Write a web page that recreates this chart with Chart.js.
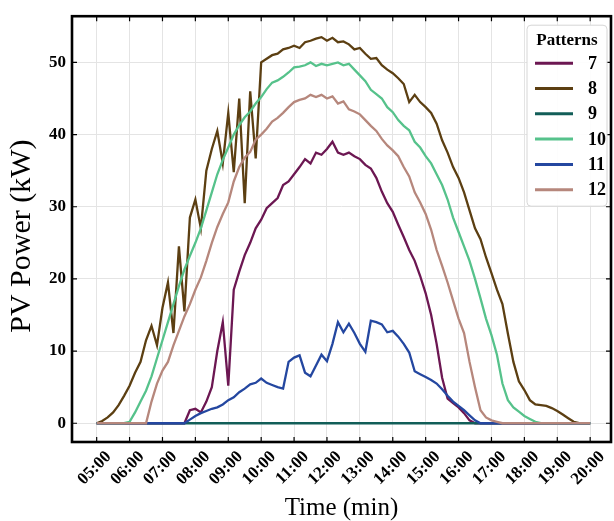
<!DOCTYPE html>
<html lang="en">
<head>
  <meta charset="UTF-8" />
  <title>PV Power Patterns</title>
  <script src="https://cdn.jsdelivr.net/npm/chart.js"></script>
  <style>
    html, body { margin: 0; padding: 0; background: #fff; }
    #wrap { width: 614px; height: 521px; }
  </style>
</head>
<body>
  <div id="wrap"><canvas id="pvChart" width="614" height="521"></canvas></div>

  <script>
    // time of day in minutes, one sample every 10 min from 05:00 to 20:00
    const times = [
      300, 310, 320, 330, 340, 350,
      360, 370, 380, 390, 400, 410,
      420, 430, 440, 450, 460, 470,
      480, 490, 500, 510, 520, 530,
      540, 550, 560, 570, 580, 590,
      600, 610, 620, 630, 640, 650,
      660, 670, 680, 690, 700, 710,
      720, 730, 740, 750, 760, 770,
      780, 790, 800, 810, 820, 830,
      840, 850, 860, 870, 880, 890,
      900, 910, 920, 930, 940, 950,
      960, 970, 980, 990, 1000, 1010,
      1020, 1030, 1040, 1050, 1060, 1070,
      1080, 1090, 1100, 1110, 1120, 1130,
      1140, 1150, 1160, 1170, 1180, 1190,
      1200
    ];

    const patternNames = ['7', '8', '9', '10', '11', '12'];
    const patternColors = ['#6c1752', '#5c3f12', '#125e58', '#56c28b', '#2447a0', '#b6877c'];

    // PV power (kW) per pattern
    const pattern7 = [
      0, 0, 0, 0, 0, 0,
      0, 0, 0, 0, 0, 0,
      0, 0, 0, 0, 0, 1.8,
      2.0, 1.5, 3.0, 5.0, 10.0, 14.0,
      5.2, 18.5, 21.0, 23.3, 25.0, 27.0,
      28.2, 29.8, 30.5, 31.2, 33.0, 33.5,
      34.5, 35.5, 36.6, 36.0, 37.5, 37.2,
      38.0, 39.0, 37.5, 37.2, 37.5, 37.0,
      36.6, 35.8, 35.3, 34.0, 32.1, 30.5,
      29.3, 27.5, 25.8, 24.0, 22.5, 20.4,
      18.0, 15.0, 11.0, 6.3, 3.4, 2.8,
      2.2, 1.4, 0.4, 0, 0, 0,
      0, 0, 0, 0, 0, 0,
      0, 0, 0, 0, 0, 0,
      0, 0, 0, 0, 0, 0,
      0
    ];
    const pattern8 = [
      0, 0.3, 0.8, 1.5, 2.5, 3.8,
      5.2, 7.0, 8.5, 11.5, 13.5, 10.8,
      16.0, 19.5, 12.5, 24.5, 15.5, 28.5,
      31.0, 27.0, 35.0, 38.0, 40.5, 36.0,
      43.0, 34.8, 45.0, 30.5, 46.0, 36.7,
      50.0, 50.5, 51.0, 51.2, 51.8, 52.0,
      52.3, 52.0, 52.8, 53.0, 53.3, 53.5,
      53.0, 53.4, 52.8, 52.9, 52.5, 51.8,
      52.0, 51.2, 50.5, 50.6, 49.6, 49.0,
      48.5, 47.8, 47.0, 44.5, 45.5, 44.5,
      43.8, 43.0, 41.5, 39.2, 37.5, 35.5,
      34.0, 32.0, 29.5, 27.0, 25.5, 23.0,
      20.8, 18.5, 16.5, 12.4, 8.5, 5.8,
      4.6, 3.2, 2.6, 2.5, 2.4, 2.1,
      1.7, 1.2, 0.7, 0.2, 0, 0,
      0
    ];
    const pattern9 = [
      0, 0, 0, 0, 0, 0,
      0, 0, 0, 0, 0, 0,
      0, 0, 0, 0, 0, 0,
      0, 0, 0, 0, 0, 0,
      0, 0, 0, 0, 0, 0,
      0, 0, 0, 0, 0, 0,
      0, 0, 0, 0, 0, 0,
      0, 0, 0, 0, 0, 0,
      0, 0, 0, 0, 0, 0,
      0, 0, 0, 0, 0, 0,
      0, 0, 0, 0, 0, 0,
      0, 0, 0, 0, 0, 0,
      0, 0, 0, 0, 0, 0,
      0, 0, 0, 0, 0, 0,
      0, 0, 0, 0, 0, 0,
      0
    ];
    const pattern10 = [
      0, 0, 0, 0, 0, 0,
      0.2, 1.5, 3.0, 4.5, 6.5, 9.0,
      11.5, 14.0, 16.5, 19.0, 21.3, 23.2,
      25.0, 27.0, 29.5, 32.0, 34.5, 36.5,
      38.2, 40.0, 41.3, 42.4, 43.2, 44.3,
      45.2, 46.3, 47.2, 47.5, 48.0, 48.6,
      49.3, 49.4, 49.6, 50.0, 49.5, 49.8,
      49.6, 49.8, 50.0, 49.6, 49.8, 49.0,
      48.2, 47.4, 46.2, 45.6, 45.0, 43.8,
      43.1, 42.0, 41.2, 40.6, 39.0, 38.2,
      37.0, 36.0, 34.5, 33.0, 31.0, 28.5,
      26.5, 24.5, 22.5, 20.0, 17.3, 14.5,
      12.2, 9.5, 5.5, 3.2, 2.2, 1.6,
      1.0, 0.6, 0.2, 0, 0, 0,
      0, 0, 0, 0, 0, 0,
      0
    ];
    const pattern11 = [
      0, 0, 0, 0, 0, 0,
      0, 0, 0, 0, 0, 0,
      0, 0, 0, 0, 0, 0.5,
      1.0, 1.4, 1.7, 2.0, 2.2, 2.6,
      3.2, 3.6, 4.3, 4.8, 5.4, 5.6,
      6.2, 5.6, 5.3, 5.0, 4.8, 8.5,
      9.1, 9.4, 7.0, 6.5, 8.0, 9.5,
      8.6, 11.0, 14.0, 12.6, 13.8, 12.5,
      11.0, 9.9, 14.2, 14.0, 13.7, 12.6,
      12.8, 12.0, 11.0, 9.8, 7.2, 6.8,
      6.4, 6.0, 5.5, 4.7, 3.8, 3.0,
      2.4, 1.8, 1.1, 0.4, 0, 0,
      0, 0, 0, 0, 0, 0,
      0, 0, 0, 0, 0, 0,
      0, 0, 0, 0, 0, 0,
      0
    ];
    const pattern12 = [
      0, 0, 0, 0, 0, 0,
      0, 0, 0, 0, 3.0, 5.5,
      7.3, 8.5, 10.8, 12.8, 14.8, 16.5,
      18.5, 20.2, 22.5, 25.0, 27.2, 29.0,
      30.6, 33.5, 35.5, 36.8, 37.6, 39.3,
      40.0, 40.8, 41.8, 42.3, 43.0, 43.8,
      44.5, 44.8, 45.0, 45.5, 45.2, 45.5,
      45.0, 45.3, 44.3, 44.6, 43.5, 43.2,
      42.8, 42.0, 41.2, 40.5, 39.4, 38.5,
      37.8, 37.0, 35.5, 34.2, 32.0, 30.6,
      29.0, 26.8, 24.0, 21.8, 19.5, 17.0,
      14.5, 12.5, 8.5, 5.0, 1.8, 0.8,
      0.4, 0.2, 0, 0, 0, 0,
      0, 0, 0, 0, 0, 0,
      0, 0, 0, 0, 0, 0,
      0
    ];

    const xTicks = [300, 360, 420, 480, 540, 600, 660, 720, 780, 840, 900, 960, 1020, 1080, 1140, 1200];
    const xTickLabels = ['05:00', '06:00', '07:00', '08:00', '09:00', '10:00', '11:00', '12:00',
                         '13:00', '14:00', '15:00', '16:00', '17:00', '18:00', '19:00', '20:00'];
    const yTicks = [0, 10, 20, 30, 40, 50];
    const yTitle = 'PV Power (kW)';

    const seriesValues = [pattern7, pattern8, pattern9, pattern10, pattern11, pattern12];
    const serif = "'Liberation Serif', 'Times New Roman', serif";

    // frame with inward tick marks, drawn over the lines
    const framePlugin = {
      id: 'frame',
      afterDatasetsDraw(chart) {
        const { ctx, chartArea: a, scales } = chart;
        ctx.save();
        ctx.strokeStyle = '#000';
        ctx.lineWidth = 1.2;
        ctx.beginPath();
        xTicks.forEach(t => {
          const px = scales.x.getPixelForValue(t);
          ctx.moveTo(px, a.bottom); ctx.lineTo(px, a.bottom - 5);
          ctx.moveTo(px, a.top); ctx.lineTo(px, a.top + 5);
        });
        yTicks.forEach(t => {
          const py = scales.y.getPixelForValue(t);
          ctx.moveTo(a.left, py); ctx.lineTo(a.left + 5, py);
          ctx.moveTo(a.right, py); ctx.lineTo(a.right - 5, py);
        });
        ctx.stroke();
        ctx.lineWidth = 2.6;
        ctx.strokeRect(a.left, a.top, a.right - a.left, a.bottom - a.top);

        // y axis title, sits a little below the axis centre as in the original
        ctx.translate(22, (a.top + a.bottom) / 2 + 7);
        ctx.rotate(-Math.PI / 2);
        ctx.fillStyle = '#000';
        ctx.font = `30px ${serif}`;
        ctx.textAlign = 'center';
        ctx.textBaseline = 'middle';
        ctx.fillText(yTitle, 0, 0);
        ctx.restore();
      }
    };

    // boxed legend in the upper right corner
    const legendPlugin = {
      id: 'patternLegend',
      afterDraw(chart) {
        const { ctx, chartArea: a } = chart;
        const bx = a.right - 84, by = a.top + 9, bw = 80, bh = 181;
        ctx.save();
        ctx.beginPath();
        ctx.roundRect(bx, by, bw, bh, 4);
        ctx.fillStyle = 'rgba(255,255,255,0.92)';
        ctx.fill();
        ctx.strokeStyle = '#d6d6d6';
        ctx.lineWidth = 1;
        ctx.stroke();

        ctx.fillStyle = '#000';
        ctx.textBaseline = 'middle';
        ctx.textAlign = 'center';
        ctx.font = `bold 17px ${serif}`;
        ctx.fillText('Patterns', bx + bw / 2, by + 15);

        ctx.textAlign = 'left';
        chart.data.datasets.forEach((ds, i) => {
          const y = by + 38 + i * 25.3;
          ctx.strokeStyle = ds.borderColor;
          ctx.lineWidth = 3;
          ctx.beginPath();
          ctx.moveTo(bx + 8, y);
          ctx.lineTo(bx + 46, y);
          ctx.stroke();
          ctx.fillStyle = '#000';
          ctx.font = `bold 18px ${serif}`;
          ctx.fillText(ds.label, bx + 61, y + 1);
        });
        ctx.restore();
      }
    };

    const ctx = document.getElementById('pvChart').getContext('2d');

    new Chart(ctx, {
      type: 'line',
      data: {
        labels: times,
        datasets: seriesValues.map((vals, i) => ({
          label: patternNames[i],
          data: vals.map((v, j) => ({ x: times[j], y: v })),
          borderColor: patternColors[i],
          backgroundColor: patternColors[i],
          borderWidth: 2.3,
          pointRadius: 0,
          tension: 0,
          fill: false,
          order: seriesValues.length - i
        }))
      },
      options: {
        responsive: false,
        animation: false,
        layout: { padding: { top: 14, right: 3, bottom: 0, left: 0 } },
        plugins: {
          legend: { display: false },
          tooltip: { enabled: false }
        },
        scales: {
          x: {
            type: 'linear',
            min: 255,
            max: 1238,
            afterBuildTicks: scale => { scale.ticks = xTicks.map(v => ({ value: v })); },
            afterFit: scale => { scale.height = 79; },
            grid: { color: '#e4e4e4', lineWidth: 1, drawTicks: false },
            border: { display: false },
            ticks: {
              autoSkip: false,
              minRotation: 45,
              maxRotation: 45,
              padding: 5,
              labelOffset: 12,
              color: '#000',
              font: { family: serif, size: 17, weight: 'bold' },
              callback: (value, index) => xTickLabels[index]
            },
            title: {
              display: true,
              text: 'Time (min)',
              color: '#000',
              font: { family: serif, size: 25, lineHeight: 1 },
              padding: { top: 0, bottom: 0 }
            }
          },
          y: {
            min: -2.6,
            max: 56.4,
            afterBuildTicks: scale => { scale.ticks = yTicks.map(v => ({ value: v })); },
            afterFit: scale => { scale.width = 72; },
            grid: { color: '#e4e4e4', lineWidth: 1, drawTicks: false },
            border: { display: false },
            ticks: {
              padding: 6,
              color: '#000',
              font: { family: serif, size: 17, weight: 'bold' }
            }
          }
        }
      },
      plugins: [framePlugin, legendPlugin]
    });
  </script>
</body>
</html>
